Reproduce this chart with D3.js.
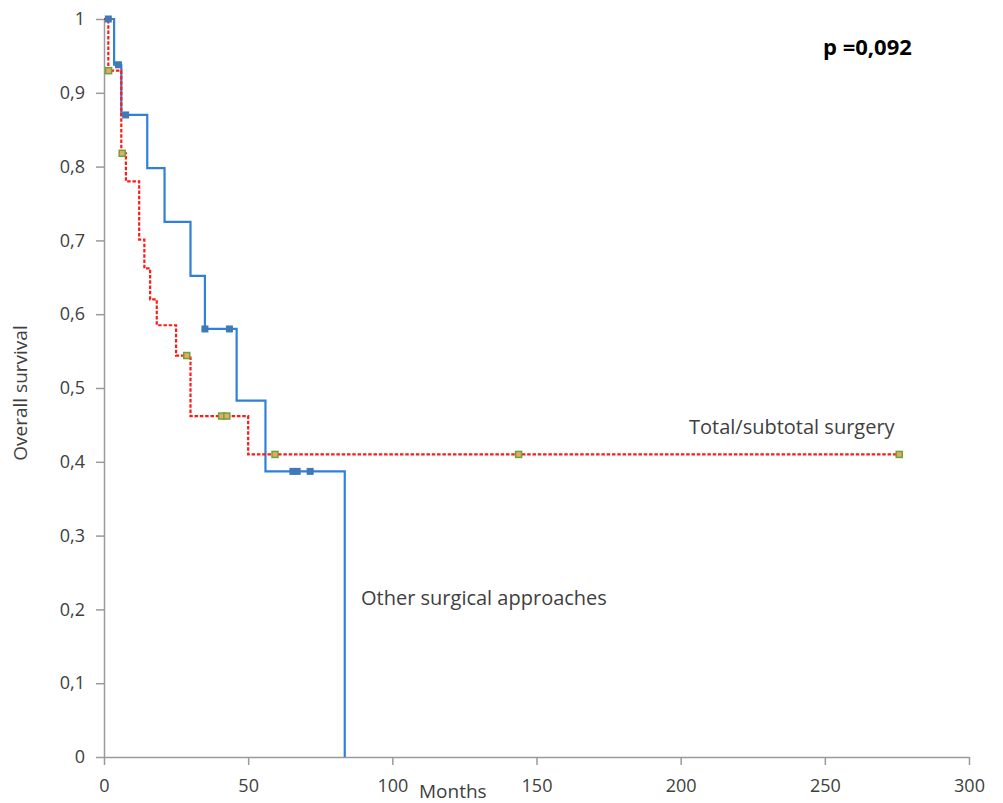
<!DOCTYPE html>
<html>
<head>
<meta charset="utf-8">
<script src="https://cdn.jsdelivr.net/npm/d3@7"></script>
<style>
  body { margin: 0; background: #fff; }
  text { font-family: "Open Sans", sans-serif; fill: #404040; }
</style>
</head>
<body>
<script>
// step curves (months, survival)
var otherTimes = [0, 3.5, 6, 15, 21, 30, 35, 46, 56, 83.5];
var otherSurv  = [1, 0.938, 0.87, 0.798, 0.725, 0.652, 0.58, 0.483, 0.387, 0];
var otherCensored = [1.5, 5, 7.5, 35, 43.5, 65.5, 67, 71.5];

var totalTimes = [0, 1.5, 6, 7.6, 12.2, 14, 16, 18.3, 25, 30, 50, 275.8];
var totalSurv  = [1, 0.93, 0.818, 0.78, 0.701, 0.662, 0.62, 0.585, 0.544, 0.462, 0.41, 0.41];
var totalCensored = [1.6, 6.3, 28.7, 40.8, 42.6, 59.3, 143.8, 275.8];

var xTicks = [0, 50, 100, 150, 200, 250, 300];
var yTicks = [0, 0.1, 0.2, 0.3, 0.4, 0.5, 0.6, 0.7, 0.8, 0.9, 1];

var w = 1003;
var h = 803;
var mLeft = 104, mTop = 19, mRight = 969, mBottom = 757;

var svg = d3.select("body").append("svg")
    .attr("width", w)
    .attr("height", h);

var x = d3.scaleLinear().domain([0, 300]).range([mLeft, mRight]);
var y = d3.scaleLinear().domain([0, 1]).range([mBottom, mTop]);

function fmt(d) {
  if (d === 0 || d === 1) return String(d);
  return d.toFixed(1).replace(".", ",");
}

// axes
var xAxis = svg.append("g")
    .attr("transform", "translate(0," + mBottom + ")")
    .call(d3.axisBottom(x).tickValues(xTicks).tickSize(8).tickSizeOuter(0).tickPadding(14));
var yAxis = svg.append("g")
    .attr("transform", "translate(" + mLeft + ",0)")
    .call(d3.axisLeft(y).tickValues(yTicks).tickFormat(fmt).tickSize(8).tickSizeOuter(0).tickPadding(11));

svg.selectAll(".domain, .tick line").attr("stroke", "#9a9a9a").attr("stroke-width", 1.5);
svg.selectAll(".tick text").style("font-size", "18px").attr("fill", "#404040");

// step lines
function pts(t, s) {
  return t.map(function(d, i) { return [d, s[i]]; });
}
var line = d3.line()
    .x(function(d) { return x(d[0]); })
    .y(function(d) { return y(d[1]); })
    .curve(d3.curveStepAfter);

svg.append("path")
    .datum(pts(otherTimes, otherSurv))
    .attr("d", line)
    .attr("fill", "none")
    .attr("stroke", "#2f80d8")
    .attr("stroke-width", 2.2);

svg.append("path")
    .datum(pts(totalTimes, totalSurv))
    .attr("d", line)
    .attr("fill", "none")
    .attr("stroke", "#ff1a1a")
    .attr("stroke-width", 2.2)
    .attr("stroke-dasharray", "3.5,1.8");

function survAt(t, times, surv) {
  var v = surv[0];
  for (var i = 0; i < times.length; i++) {
    if (times[i] <= t) v = surv[i];
  }
  return v;
}

// censor marks
svg.selectAll(".cb").data(otherCensored).enter().append("rect")
    .attr("x", function(d) { return x(d) - 3.5; })
    .attr("y", function(d) { return y(survAt(d, otherTimes, otherSurv)) - 3.5; })
    .attr("width", 7).attr("height", 7)
    .attr("fill", "#3f79b8");

svg.selectAll(".cr").data(totalCensored).enter().append("rect")
    .attr("x", function(d) { return x(d) - 3; })
    .attr("y", function(d) { return y(survAt(d, totalTimes, totalSurv)) - 3; })
    .attr("width", 6).attr("height", 6)
    .attr("fill", "#e8a868")
    .attr("stroke", "#6aa53c")
    .attr("stroke-width", 1.5);

// texts
svg.append("text").attr("x", 689).attr("y", 434).style("font-size", "20px").text("Total/subtotal surgery");
svg.append("text").attr("x", 361).attr("y", 605).style("font-size", "20px").text("Other surgical approaches");
svg.append("text").attr("x", 823).attr("y", 55).style("font-size", "22px").style("font-weight", "bold")
    .style("fill", "#000").text("p =0,092");
svg.append("text").attr("x", 419).attr("y", 798).style("font-size", "19px").text("Months");
svg.append("text").attr("transform", "translate(27,393) rotate(-90)").attr("text-anchor", "middle")
    .style("font-size", "19px").text("Overall survival");
</script>
</body>
</html>
